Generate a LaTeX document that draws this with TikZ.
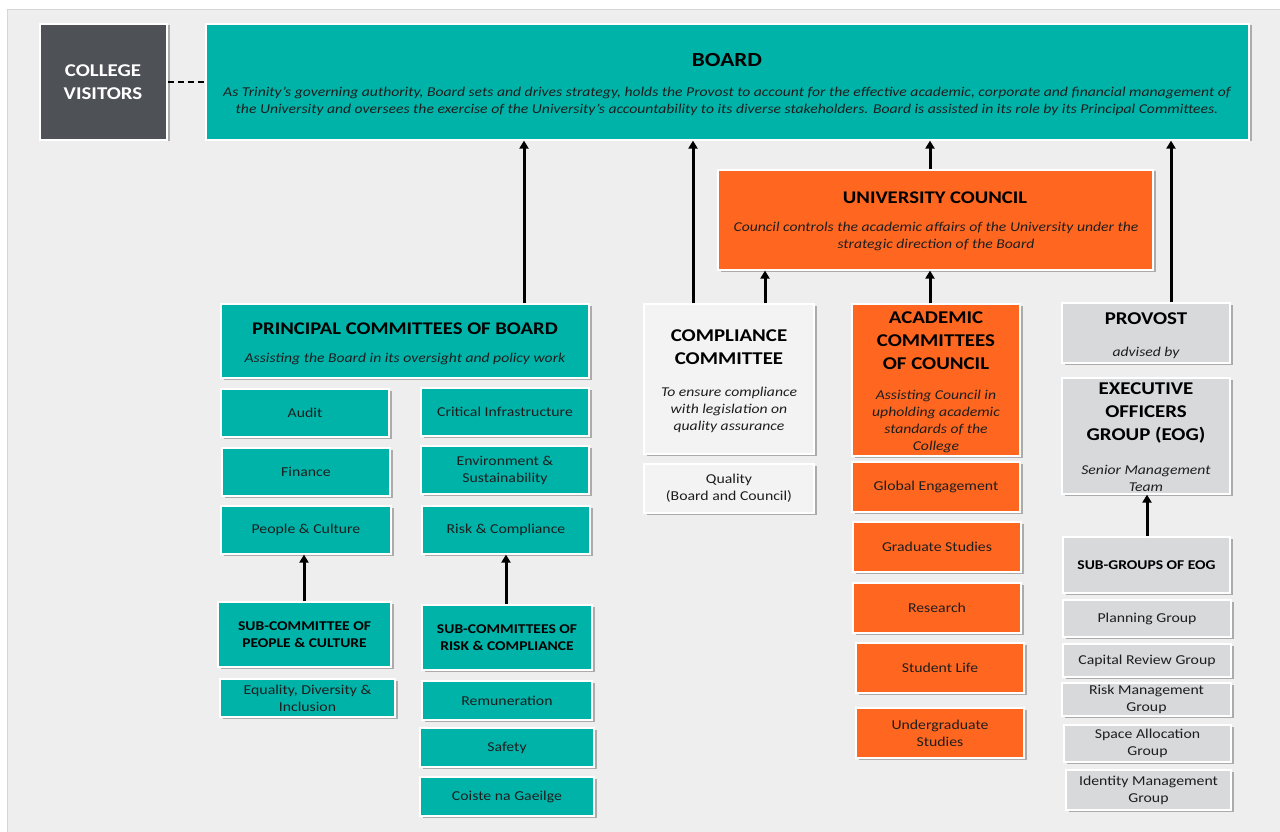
\documentclass[tikz,border=0pt]{standalone}
\usepackage{fontspec}
\setmainfont{Carlito}[FakeStretch=1.16]
\usetikzlibrary{arrows.meta,shadows}
\definecolor{cTeal}{RGB}{0,179,169}
\definecolor{cOrange}{RGB}{255,103,32}
\definecolor{cDark}{RGB}{78,82,87}
\definecolor{cGrey}{RGB}{216,217,219}
\definecolor{cLight}{RGB}{243,243,243}
\definecolor{cBg}{RGB}{238,238,238}
\definecolor{cEdge}{RGB}{214,214,214}
\definecolor{cText}{RGB}{30,30,30}
\newcommand\bx[7]{\node[box,fill=#6,minimum width={#4pt-#2pt},minimum height={#5pt-#3pt}] (#1) at ({(#2+#4)/2},{(#3+#5)/2}) {#7};}
\newcommand\subf{\bfseries\fontsize{13.4}{17.5}\selectfont\color{black}}
\tikzset{
  box/.style={draw=white,line width=1.2pt,inner sep=1pt,align=center,text=cText,
    font=\fontsize{13.6}{17}\selectfont,
    drop shadow={shadow xshift=2.5pt,shadow yshift=-1.5pt,opacity=0.28,fill=black}},
  ttl/.style={align=center,text=black,font=\bfseries\fontsize{18}{23}\selectfont,inner sep=0pt},
  dsc/.style={align=center,text=cText,font=\itshape\fontsize{13.5}{17}\selectfont,inner sep=0pt},
  arr/.style={line width=3pt,-{Triangle[length=8pt,width=9pt]}},
}
\begin{document}
\begin{tikzpicture}[x=1pt,y=-1pt]
\useasboundingbox (0,0) rectangle (1280,832);
\fill[white] (0,0) rectangle (1280,832);
\filldraw[fill=cBg,draw=cEdge,line width=0.8pt] (7,9) rectangle (1284,836);

% top
\bx{cv}{40}{24}{167}{140}{cDark}{}
\node[ttl,text=white] (cvT) at (103,82) {COLLEGE\\VISITORS};
\bx{board}{206}{24}{1249}{140}{cTeal}{}
\node[ttl,font=\bfseries\fontsize{20}{24}\selectfont] (boardT) at (727,60) {BOARD};
\node[dsc] (boardD) at (727,101) {As Trinity’s governing authority, Board sets and drives strategy, holds the Provost to account for the effective academic, corporate and financial management of\\the University and oversees the exercise of the University’s accountability to its diverse stakeholders. Board is assisted in its role by its Principal Committees.};
\draw[line width=2pt,dash pattern=on 6pt off 4pt] (cv.east) -- (board.west);

% council
\bx{council}{718}{170}{1153}{270}{cOrange}{}
\node[ttl,font=\bfseries\fontsize{17.8}{22}\selectfont] (councilT) at (935,198) {UNIVERSITY COUNCIL};
\node[dsc] (councilD) at (936,236.5) {Council controls the academic affairs of the University under the\\strategic direction of the Board};

% principal committees
\bx{pc}{221}{304}{589}{378}{cTeal}{}
\node[ttl,font=\bfseries\fontsize{17.8}{22}\selectfont] (pcT) at (405,329) {PRINCIPAL COMMITTEES OF BOARD};
\node[dsc] (pcD) at (405,358.5) {Assisting the Board in its oversight and policy work};
\bx{audit}{221}{389}{389}{437}{cTeal}{Audit}
\bx{fin}{222}{448}{390}{496}{cTeal}{Finance}
\bx{pcul}{221}{506}{391}{554}{cTeal}{People \& Culture}
\bx{ci}{421}{388}{589}{436}{cTeal}{Critical Infrastructure}
\bx{env}{421}{446}{589}{494}{cTeal}{Environment \&\\Sustainability}
\bx{rc}{422}{506}{590}{554}{cTeal}{Risk \& Compliance}
\bx{scpc}{218}{602}{391}{667}{cTeal}{\subf SUB-COMMITTEE OF\\\subf PEOPLE \& CULTURE}
\bx{edi}{220}{679}{395}{717}{cTeal}{Equality, Diversity \&\\Inclusion}
\bx{scrc}{422}{605}{592}{670}{cTeal}{\subf SUB-COMMITTEES OF\\\subf RISK \& COMPLIANCE}
\bx{rem}{422}{681}{592}{720}{cTeal}{Remuneration}
\bx{saf}{420}{728}{594}{767}{cTeal}{Safety}
\bx{cng}{420}{777}{594}{816}{cTeal}{Coiste na Gaeilge}

% compliance
\bx{comp}{644}{304}{814}{454}{cLight}{}
\node[ttl] (compT) at (729,347.5) {COMPLIANCE\\COMMITTEE};
\node[dsc] (compD) at (729,409.5) {To ensure compliance\\with legislation on\\quality assurance};
\bx{qual}{644}{464}{814}{513}{cLight}{Quality\\(Board and Council)}

% academic
\bx{acad}{852}{304}{1020}{456}{cOrange}{}
\node[ttl] (acadT) at (936,341) {ACADEMIC\\COMMITTEES\\OF COUNCIL};
\node[dsc] (acadD) at (936,421) {Assisting Council in\\upholding academic\\standards of the\\College};
\bx{ge}{852}{462}{1020}{512}{cOrange}{Global Engagement}
\bx{gs}{853}{522}{1021}{572}{cOrange}{Graduate Studies}
\bx{res}{853}{583}{1021}{633}{cOrange}{Research}
\bx{sl}{856}{643}{1024}{693}{cOrange}{Student Life}
\bx{ug}{856}{708}{1024}{758}{cOrange}{Undergraduate\\Studies}

% provost
\bx{prov}{1062}{303}{1230}{363}{cGrey}{}
\node[ttl] (provT) at (1146,319) {PROVOST};
\node[dsc] (provD) at (1146,353) {advised by};
\bx{eog}{1062}{378}{1230}{494}{cGrey}{}
\node[ttl] (eogT) at (1146,413) {EXECUTIVE\\OFFICERS\\GROUP (EOG)};
\node[dsc] (eogD) at (1146,478.5) {Senior Management\\Team};
\bx{sg}{1063}{537}{1230}{593}{cGrey}{\subf SUB-GROUPS OF EOG}
\bx{plan}{1063}{600}{1231}{637}{cGrey}{Planning Group}
\bx{cap}{1063}{644}{1231}{677}{cGrey}{Capital Review Group}
\bx{risk}{1062}{683}{1231}{716}{cGrey}{Risk Management\\Group}
\bx{space}{1064}{725}{1231}{762}{cGrey}{Space Allocation\\Group}
\bx{ident}{1066}{770}{1231}{810}{cGrey}{Identity Management\\Group}

% arrows
\coordinate (a1) at (524,0);
\coordinate (a2) at (693,0);
\coordinate (a3) at (765,0);
\coordinate (a4) at (930,0);
\coordinate (a5) at (1171,0);
\coordinate (a6) at (1147,0);
\coordinate (a7) at (304,0);
\coordinate (a8) at (506,0);
\draw[arr] (pc.north -| a1) -- (board.south -| a1);
\draw[arr] (comp.north -| a2) -- (board.south -| a2);
\draw[arr] (comp.north -| a3) -- (council.south -| a3);
\draw[arr] (acad.north -| a4) -- (council.south -| a4);
\draw[arr] (council.north -| a4) -- (board.south -| a4);
\draw[arr] (prov.north -| a5) -- (board.south -| a5);
\draw[arr] (sg.north -| a6) -- (eog.south -| a6);
\draw[arr] (scpc.north -| a7) -- (pcul.south -| a7);
\draw[arr] (scrc.north -| a8) -- (rc.south -| a8);
\end{tikzpicture}
\end{document}
